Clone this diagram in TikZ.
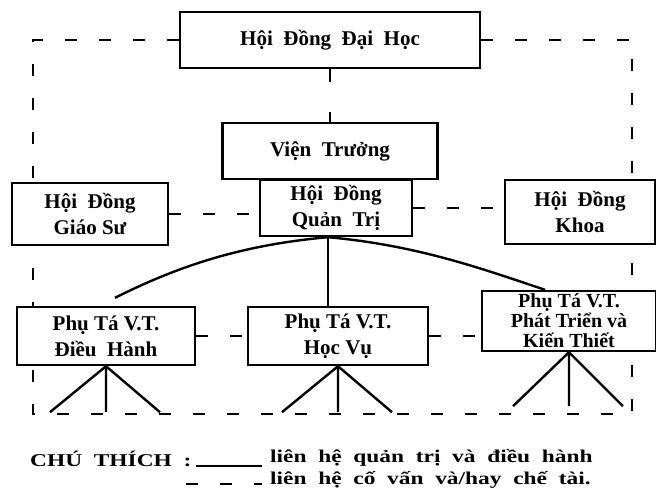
\documentclass[tikz,border=0pt]{standalone}
\usepackage{fontspec}
\setmainfont{Liberation Serif}
\newfontfamily\chuthichfont[FakeStretch=1.3,WordSpace=2]{Liberation Serif}
\usetikzlibrary{backgrounds}
\usetikzlibrary{calc}

\begin{document}
\begin{tikzpicture}[x=1pt,y=-1pt,
  khung/.style={draw,line width=2.4pt,fill=white,align=center,inner sep=0pt,
    font=\fontsize{21}{26}\selectfont\bfseries},
  quantri/.style={line width=2.4pt},
  covan/.style={line width=2.4pt,dash pattern=on 12pt off 22pt}]
\useasboundingbox (0,0) rectangle (656,488);
\node [khung,minimum width=300,minimum height=56] (hddh) at (330,40) {Hội \ Đồng \ Đại \ Học};
\node [khung,minimum width=215,minimum height=56] (vt) at (330,151) {Viện \ Trưởng};
\node [khung,minimum width=152,minimum height=56] (hdqt) at (336,208) {Hội \ Đồng\\Quản \ Trị};
\node [khung,minimum width=156,minimum height=62] (hdgs) at (90,214) {Hội \ Đồng\\Giáo Sư};
\node [khung,minimum width=150,minimum height=64] (hdk) at (580,212) {Hội \ Đồng\\Khoa};
\node [khung,minimum width=178,minimum height=58] (ptdh) at (106,336) {Phụ Tá V.T.\\Điều \ Hành};
\node [khung,minimum width=180,minimum height=58] (pthv) at (338,336) {Phụ Tá V.T.\\Học Vụ};
\node [khung,minimum width=174,minimum height=60,font=\fontsize{20}{20}\selectfont\bfseries] (ptpt) at (569,321) {Phụ Tá V.T.\\Phát Triển và\\Kiến Thiết};
\coordinate (goctrai) at (33,414);
\coordinate (gocphai) at (632,414);
\begin{scope}[on background layer]
\draw [covan] (hddh.west) -| (goctrai) -- (gocphai) |- (hddh.east);
\end{scope}
\draw [covan,dash pattern=on 13pt off 30pt] (hddh) -- (vt);
\draw [covan] (hdgs.east) -- (hdgs.east -| hdqt.west);
\draw [covan] (hdqt.east) -- (hdqt.east -| hdk.west);
\draw [covan] (ptdh.east) -- (ptdh.east -| pthv.west);
\draw [covan] (pthv.east) -- (pthv.east -| ptpt.west);
\coordinate (dinh) at ($(hdqt.south)+(-8,0)$);
\draw [quantri] (dinh) .. controls +(-90,8) and +(60,-30) .. ($(ptdh.north)+(9,-8)$);
\draw [quantri] (dinh) .. controls +(90,8) and +(-60,-20) .. ($(ptpt.north)+(-24,0)$);
\draw [quantri] (dinh) -- (dinh |- pthv.north);
\foreach \b/\h in {ptdh/46,pthv/46,ptpt/54}
  \draw [quantri] ($(\b.south)+(-56,\h)$) -- (\b.south) -- ($(\b.south)+(54,\h)$)
    (\b.south) -- ++(0,\h);
\begin{scope}[font=\chuthichfont\fontsize{18}{22}\selectfont\bfseries]
\node [anchor=base west,inner sep=0pt] (chuthich) at (30,466) {CHÚ THÍCH :};
\node [anchor=base west,inner sep=0pt] (lg1) at (270,462) {liên hệ quản trị và điều hành};
\node [anchor=base west,inner sep=0pt] (lg2) at (270,484) {liên hệ cố vấn và/hay chế tài.};
\end{scope}
\coordinate (mauqt) at ($(chuthich.base -| lg1.west)+(-8,0)$);
\draw [quantri] ([xshift=4pt]chuthich.base east) -- (mauqt);
\draw [covan] ([xshift=-84pt]lg2.base west) -- ([xshift=-8pt]lg2.base west);
\end{tikzpicture}
\end{document}
